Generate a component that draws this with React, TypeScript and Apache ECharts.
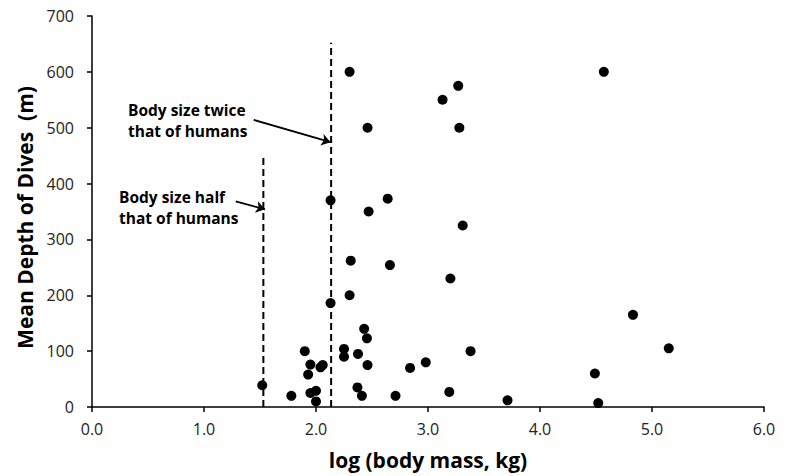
import React, { useEffect, useRef } from "react";
import * as echarts from "echarts";

const points: [number, number][] = [
  [2.3, 600], [3.27, 575], [3.13, 550], [2.46, 500], [3.28, 500], [4.57, 600],
  [2.13, 370], [2.64, 373], [2.47, 350], [3.31, 325], [2.31, 262], [2.66, 254],
  [3.2, 230], [2.3, 200], [2.13, 186], [4.83, 165], [2.43, 140], [2.455, 123],
  [2.25, 104], [2.25, 90], [1.9, 100], [2.375, 95], [3.38, 100], [5.15, 105],
  [1.95, 76], [2.04, 71], [2.06, 75], [2.46, 75], [2.84, 70], [2.98, 80],
  [1.93, 58], [4.49, 60], [1.52, 39], [2.37, 35], [1.78, 20], [1.95, 25],
  [2.0, 29], [2.41, 20], [2.71, 20], [2.0, 10], [3.19, 27], [3.71, 12], [4.52, 7],
];

const halfLine: [number, number][] = [[1.53, 0], [1.53, 452]];
const twiceLine: [number, number][] = [[2.135, 0], [2.135, 652]];
const arrowTwice: [number, number][] = [[1.444, 514], [2.13, 474]];
const arrowHalf: [number, number][] = [[1.283, 368], [1.545, 354]];

const xTicks = { min: 0, max: 6, interval: 1 };
const yTicks = { min: 0, max: 700, interval: 100 };

const FONT = '"Open Sans", "Liberation Sans", sans-serif';

export default function App() {
  const ref = useRef<HTMLDivElement>(null);
  useEffect(() => {
    if (!ref.current) return;
    const chart = echarts.init(ref.current, undefined, { renderer: "svg" });
    const dashed = (d: [number, number][]) => ({
      type: "line",
      data: d,
      symbol: "none",
      silent: true,
      lineStyle: { color: "#000", width: 2, type: [7, 4] },
      z: 1,
    });
    const arrow = (d: [number, number][]) => ({
      type: "line",
      data: [],
      silent: true,
      markLine: {
        silent: true,
        animation: false,
        symbol: ["none", "arrow"],
        symbolSize: 9,
        label: { show: false },
        lineStyle: { color: "#000", width: 1.8, type: "solid" },
        itemStyle: { color: "#000" },
        data: [[{ coord: d[0] }, { coord: d[1] }]],
      },
    });
    chart.setOption({
      animation: false,
      grid: { left: 92, right: 23, top: 16, bottom: 69 },
      xAxis: {
        type: "value",
        ...xTicks,
        name: "log (body mass, kg)",
        nameLocation: "middle",
        nameGap: 42,
        nameTextStyle: { fontFamily: FONT, fontWeight: "bold", fontSize: 21, color: "#000" },
        axisLine: { show: true, lineStyle: { color: "#000", width: 1.5 } },
        axisTick: { show: true, length: 5, lineStyle: { color: "#000", width: 1.5 } },
        axisLabel: { fontFamily: FONT, fontSize: 16, color: "#222", margin: 14, formatter: (v: number) => v.toFixed(1) },
        splitLine: { show: false },
      },
      yAxis: {
        type: "value",
        ...yTicks,
        name: "Mean Depth of Dives  (m)",
        nameLocation: "middle",
        nameGap: 57,
        nameTextStyle: { fontFamily: FONT, fontWeight: "bold", fontSize: 21, color: "#000", padding: [0, 12, 0, 0] },
        axisLine: { show: true, lineStyle: { color: "#000", width: 1.5 } },
        axisTick: { show: true, length: 5, lineStyle: { color: "#000", width: 1.5 } },
        axisLabel: { fontFamily: FONT, fontSize: 16, color: "#222", margin: 18 },
        splitLine: { show: false },
      },
      graphic: [
        {
          type: "text",
          left: 128,
          top: 99,
          style: {
            text: "Body size twice\nthat of humans",
            font: `bold 15.5px ${FONT}`,
            fill: "#000",
            lineHeight: 21.5,
          },
        },
        {
          type: "text",
          left: 119,
          top: 186,
          style: {
            text: "Body size half\nthat of humans",
            font: `bold 15.5px ${FONT}`,
            fill: "#000",
            lineHeight: 21.5,
          },
        },
      ],
      series: [
        dashed(halfLine),
        dashed(twiceLine),
        arrow(arrowTwice),
        arrow(arrowHalf),
        {
          type: "scatter",
          data: points,
          symbol: "circle",
          symbolSize: 10,
          itemStyle: { color: "#000", opacity: 1 },
          z: 3,
        },
      ],
    });
    return () => chart.dispose();
  }, []);
  return <div ref={ref} style={{ position: "absolute", left: 0, top: 0, width: 787, height: 476 }} />;
}
